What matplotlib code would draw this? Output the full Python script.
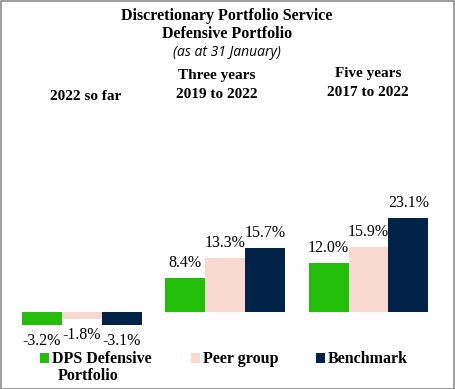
"""
DPS Defensive Portfolio - performance par période
"""

import numpy as np
import matplotlib
matplotlib.use("Agg")
import matplotlib.pyplot as plt
from matplotlib.patches import Rectangle

# Données
periods = ["2022 so far", "Three years", "Five years"]
period_dates = ["", "2019 to 2022", "2017 to 2022"]
series = ["DPS Defensive\nPortfolio", "Peer group", "Benchmark"]
dps = [-3.2, 8.4, 12.0]
peer = [-1.8, 13.3, 15.9]
bench = [-3.1, 15.7, 23.1]
colors = ["#22be0a", "#f9d8d2", "#002347"]

W, H = 455, 389
fig = plt.figure(figsize=(W / 100, H / 100), dpi=100)
serif = "Liberation Serif"

# axes placées en pixels : centre des groupes à 81.5 / 225 / 368.5 px
ax = fig.add_axes([9.75 / W, 56.6 / H, 430.5 / W, 122.1 / H])
ax.set_xlim(-0.5, 2.5)
ax.set_ylim(-5, 25)
ax.axis("off")

x = np.arange(len(periods))
w = 40 / 143.5
for j, (vals, col) in enumerate(zip([dps, peer, bench], colors)):
    xs = x + (j - 1) * w
    ax.bar(xs, vals, width=w, color=col, linewidth=0)
    for xi, v in zip(xs, vals):
        off = 15 if v > 0 else -16
        ax.annotate(f"{v:.1f}%", (xi, v), xytext=(0, off),
                    textcoords="offset pixels", ha="center", va="center",
                    fontsize=11.5, family=serif)


def ftext(px, py, s, **kw):
    fig.text(px / W, 1 - py / H, s, ha="center", va="center", **kw)


ftext(227, 16, "Discretionary Portfolio Service", fontsize=11.5,
      fontweight="bold", family=serif)
ftext(227, 34, "Defensive Portfolio", fontsize=11.5, fontweight="bold",
      family=serif)
ftext(227, 53, "(as at 31 January)", fontsize=10, style="italic",
      family="Open Sans")

head_y = [96, 76, 74]
for i, (p, d) in enumerate(zip(periods, period_dates)):
    cx = [86, 217, 368][i]
    ftext(cx, head_y[i], p, fontsize=11, fontweight="bold", family=serif)
    if d:
        ftext(cx, head_y[i] + 19, d, fontsize=11, fontweight="bold",
              family=serif)

# légende manuelle
leg_x = [40, 191, 316]
for lx, lab, col in zip(leg_x, series, colors):
    fig.patches.append(Rectangle((lx / W, 1 - 363 / H), 9 / W, 10 / H,
                                 transform=fig.transFigure, color=col,
                                 linewidth=0))
    lines = lab.split("\n")
    fig.text((lx + 12) / W, 1 - 359 / H, lines[0], ha="left", va="center",
             fontsize=11.5, fontweight="bold", family=serif)
    if len(lines) > 1:
        ftext(88, 376, lines[1], fontsize=11.5, fontweight="bold",
              family=serif)

fig.patches.append(Rectangle((0.5 / W, 0.5 / H), (W - 1.5) / W, (H - 1.5) / H,
                             transform=fig.transFigure, fill=False,
                             edgecolor="#8c8c8c", linewidth=1.2))

fig.savefig("out.png", dpi=100)
